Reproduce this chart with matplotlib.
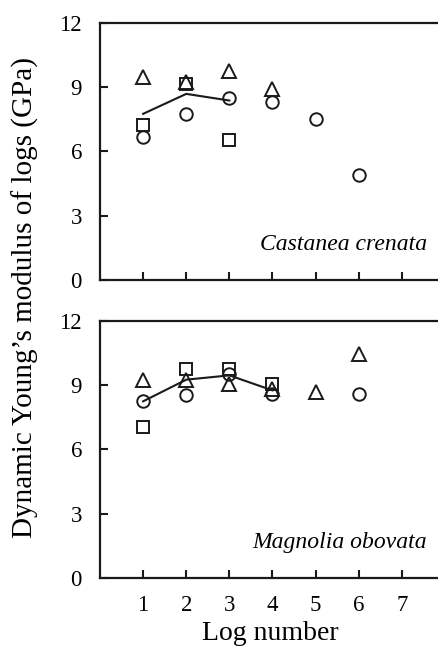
import matplotlib
matplotlib.use("Agg")
import matplotlib.pyplot as plt

# Castanea crenata
c_tri_x = [1, 2, 3, 4]
c_tri_y = [9.49, 9.22, 9.77, 8.92]
c_sq_x = [1, 2, 3]
c_sq_y = [7.21, 9.15, 6.54]
c_ci_x = [1, 2, 3, 4, 5, 6]
c_ci_y = [6.67, 7.75, 8.50, 8.30, 7.53, 4.92]
c_line_x = [1, 2, 3]
c_line_y = [7.75, 8.68, 8.37]

# Magnolia obovata
m_tri_x = [1, 2, 3, 4, 5, 6]
m_tri_y = [9.22, 9.25, 9.03, 8.83, 8.68, 10.46]
m_sq_x = [1, 2, 3, 4]
m_sq_y = [7.05, 9.77, 9.77, 9.03]
m_ci_x = [1, 2, 3, 4, 6]
m_ci_y = [8.24, 8.52, 9.50, 8.60, 8.57]
m_line_x = [1, 2, 3, 4]
m_line_y = [8.24, 9.25, 9.45, 8.75]

species = ["Castanea crenata", "Magnolia obovata"]
yticks = [0, 3, 6, 9, 12]
xticks = [1, 2, 3, 4, 5, 6, 7]

plt.rcParams['font.family'] = ['Liberation Serif', 'DejaVu Serif']

fig = plt.figure(figsize=(4.39, 6.48), dpi=100)
W, H = 439, 648
def pos(l, t, r, b):
    return [l / W, 1 - b / H, (r - l) / W, (b - t) / H]

ax1 = fig.add_axes(pos(100, 22.7, 445, 280))
ax2 = fig.add_axes(pos(100, 320.7, 445, 578))

panels = [
    (ax1, c_tri_x, c_tri_y, c_sq_x, c_sq_y, c_ci_x, c_ci_y, c_line_x, c_line_y, species[0]),
    (ax2, m_tri_x, m_tri_y, m_sq_x, m_sq_y, m_ci_x, m_ci_y, m_line_x, m_line_y, species[1]),
]

for ax, tx, ty, sx, sy, cx, cy, lx, ly, name in panels:
    ax.plot(lx, ly, color='#1a1a1a', lw=1.5, zorder=2)
    ax.plot(tx, ty, ls='none', marker='^', ms=10, mfc='none', mec='#1a1a1a', mew=1.4, zorder=3)
    ax.plot(sx, sy, ls='none', marker='s', ms=9, mfc='none', mec='#1a1a1a', mew=1.4, zorder=3)
    ax.plot(cx, cy, ls='none', marker='o', ms=9, mfc='none', mec='#1a1a1a', mew=1.4, zorder=3)
    ax.set_xlim(0, 8)
    ax.set_ylim(0, 12)
    ax.set_yticks(yticks)
    ax.set_xticks(xticks)
    ax.tick_params(direction='in', length=6, width=1.5, labelsize=16.5, color='#1a1a1a')
    ax.tick_params(axis='y', pad=13)
    ax.tick_params(axis='x', pad=12)
    for s in ax.spines.values():
        s.set_linewidth(1.6)
        s.set_color('#1a1a1a')
    ax.text(7.59, 1.4, name, style='italic', fontsize=17, ha='right', va='baseline')

ax1.tick_params(axis='x', labelbottom=False)

fig.text(25 / W, 1 - 297 / H, "Dynamic Young\u2019s modulus of logs (GPa)", rotation=90,
         ha='center', va='center', fontsize=21)
fig.text(270 / W, 1 - 640 / H, "Log number", ha='center', va='baseline', fontsize=20)

fig.savefig("out.png", dpi=100)
